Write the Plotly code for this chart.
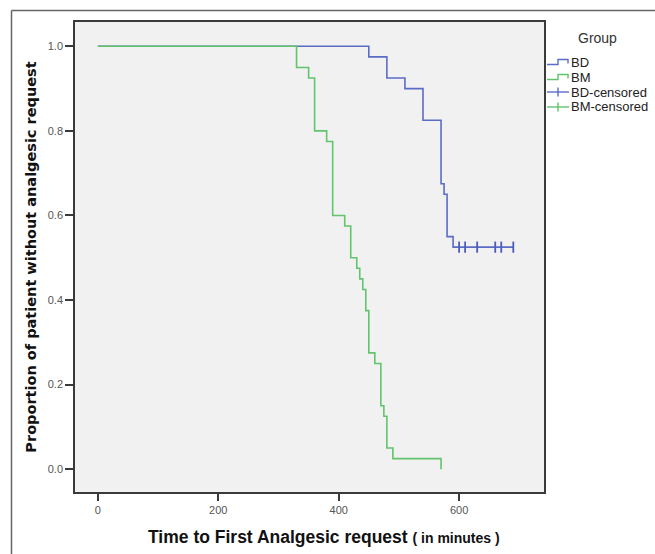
import plotly.graph_objects as go

# ---- data ----
bd_time = [0, 450, 480, 510, 540, 570, 575, 580, 590, 690]
bd_surv = [1.0, 0.975, 0.925, 0.90, 0.825, 0.675, 0.65, 0.55, 0.525, 0.525]
bd_cens_time = [600, 610, 630, 660, 670, 690]
bd_cens_surv = [0.525, 0.525, 0.525, 0.525, 0.525, 0.525]

bm_time = [0, 330, 350, 360, 380, 390, 410, 420, 430, 435, 440, 445, 450, 460, 470, 475, 480, 490, 570]
bm_surv = [1.0, 0.95, 0.925, 0.80, 0.775, 0.60, 0.575, 0.50, 0.475, 0.45, 0.425, 0.375, 0.275, 0.25,
           0.15, 0.125, 0.05, 0.025, 0.0]

x_ticks = [0, 200, 400, 600]
y_ticks = [0.0, 0.2, 0.4, 0.6, 0.8, 1.0]
legend_labels = ["BD", "BM", "BD-censored", "BM-censored"]

BLUE = "#5b6cc6"
GREEN = "#62c46c"
FONT = "Liberation Sans, Arial, sans-serif"

W, H = 655, 554
L, R, T, B = 75, 544, 22, 492


def pxx(x):
    return (x - L) / (R - L)


def pxy(y):
    return (B - y) / (B - T)


fig = go.Figure()
fig.add_trace(go.Scatter(x=bd_time, y=bd_surv, mode="lines", line=dict(color=BLUE, width=1.6, shape="hv"),
                         name="BD", showlegend=False, hoverinfo="skip"))
fig.add_trace(go.Scatter(x=bm_time, y=bm_surv, mode="lines", line=dict(color=GREEN, width=1.6, shape="hv"),
                         name="BM", showlegend=False, hoverinfo="skip"))
fig.add_trace(go.Scatter(x=bd_cens_time, y=bd_cens_surv, mode="markers",
                         marker=dict(symbol="line-ns", size=8, line=dict(color="#4a5cb8", width=1.8)),
                         name="BD-censored", showlegend=False, hoverinfo="skip"))

shapes = []
# outer frame (partially visible)
shapes.append(dict(type="line", xref="paper", yref="paper", x0=pxx(11.5), x1=pxx(W + 5), y0=pxy(10.5), y1=pxy(10.5),
                   line=dict(color="#666666", width=1.5)))
shapes.append(dict(type="line", xref="paper", yref="paper", x0=pxx(11.5), x1=pxx(11.5), y0=pxy(10.5), y1=pxy(H + 5),
                   line=dict(color="#666666", width=1.5)))

# manual legend
rows = [62, 77, 92, 107]
colors = [BLUE, GREEN, BLUE, GREEN]
annotations = [dict(text="Group", x=pxx(597), y=pxy(38), xref="paper", yref="paper", showarrow=False,
                    xanchor="center", yanchor="middle", font=dict(family=FONT, size=14, color="#333333"))]
for i, (lab, ry, c) in enumerate(zip(legend_labels, rows, colors)):
    if i < 2:
        path = "M {} {} L {} {} L {} {} L {} {} L {} {}".format(
            pxx(547), pxy(ry + 2.5), pxx(558), pxy(ry + 2.5), pxx(558), pxy(ry - 2.5),
            pxx(568), pxy(ry - 2.5), pxx(568), pxy(ry + 1.5))
        shapes.append(dict(type="path", xref="paper", yref="paper", path=path, line=dict(color=c, width=1.4)))
    else:
        shapes.append(dict(type="line", xref="paper", yref="paper", x0=pxx(547), x1=pxx(569), y0=pxy(ry), y1=pxy(ry),
                           line=dict(color=c, width=1.4)))
        shapes.append(dict(type="line", xref="paper", yref="paper", x0=pxx(558), x1=pxx(558), y0=pxy(ry - 4.5),
                           y1=pxy(ry + 4.5), line=dict(color=c, width=1.4)))
    annotations.append(dict(text=lab, x=pxx(569), y=pxy(ry), xref="paper", yref="paper", showarrow=False,
                            xanchor="left", yanchor="middle", font=dict(family=FONT, size=13, color="#222222")))

# x-axis title (placed as annotation to match the reference's off-centre position)
annotations.append(dict(
    text="<b>Time to First Analgesic request</b> <b><span style='font-size:14px'>( in minutes )</span></b>",
    x=pxx(323.5), y=pxy(537), xref="paper", yref="paper", showarrow=False,
    xanchor="center", yanchor="middle", font=dict(family=FONT, size=17.5, color="#111111")))

fig.update_layout(
    width=W, height=H,
    margin=dict(l=L, r=W - R, t=T, b=H - B, autoexpand=False),
    paper_bgcolor="white",
    plot_bgcolor="#f1f1f1",
    font=dict(family=FONT, size=11, color="#444444"),
    shapes=shapes,
    annotations=annotations,
    showlegend=False,
)
fig.update_xaxes(
    range=[-38, 741], tickvals=x_ticks, ticktext=[str(v) for v in x_ticks],
    showgrid=False, zeroline=False, showline=True, mirror=True, linecolor="#3a3a3a", linewidth=1.5,
    ticks="outside", ticklen=7, tickwidth=1.5, tickcolor="#3a3a3a",
    tickfont=dict(family=FONT, size=11, color="#555555"),
)
fig.update_yaxes(
    range=[-0.054, 1.0575], tickvals=y_ticks, ticktext=["%.1f" % v for v in y_ticks],
    showgrid=False, zeroline=False, showline=True, mirror=True, linecolor="#3a3a3a", linewidth=1.5,
    ticks="outside", ticklen=8, tickwidth=1.5, tickcolor="#3a3a3a",
    tickfont=dict(family=FONT, size=11, color="#555555"),
    title=dict(text="<b>Proportion of patient without analgesic request</b>",
               font=dict(family="DejaVu Sans, sans-serif", size=14.5, color="#111111"), standoff=8),
)

fig.write_html("out.html", config={"displayModeBar": False},
               post_script="document.body.style.margin='0px';document.body.style.overflow='hidden';")
